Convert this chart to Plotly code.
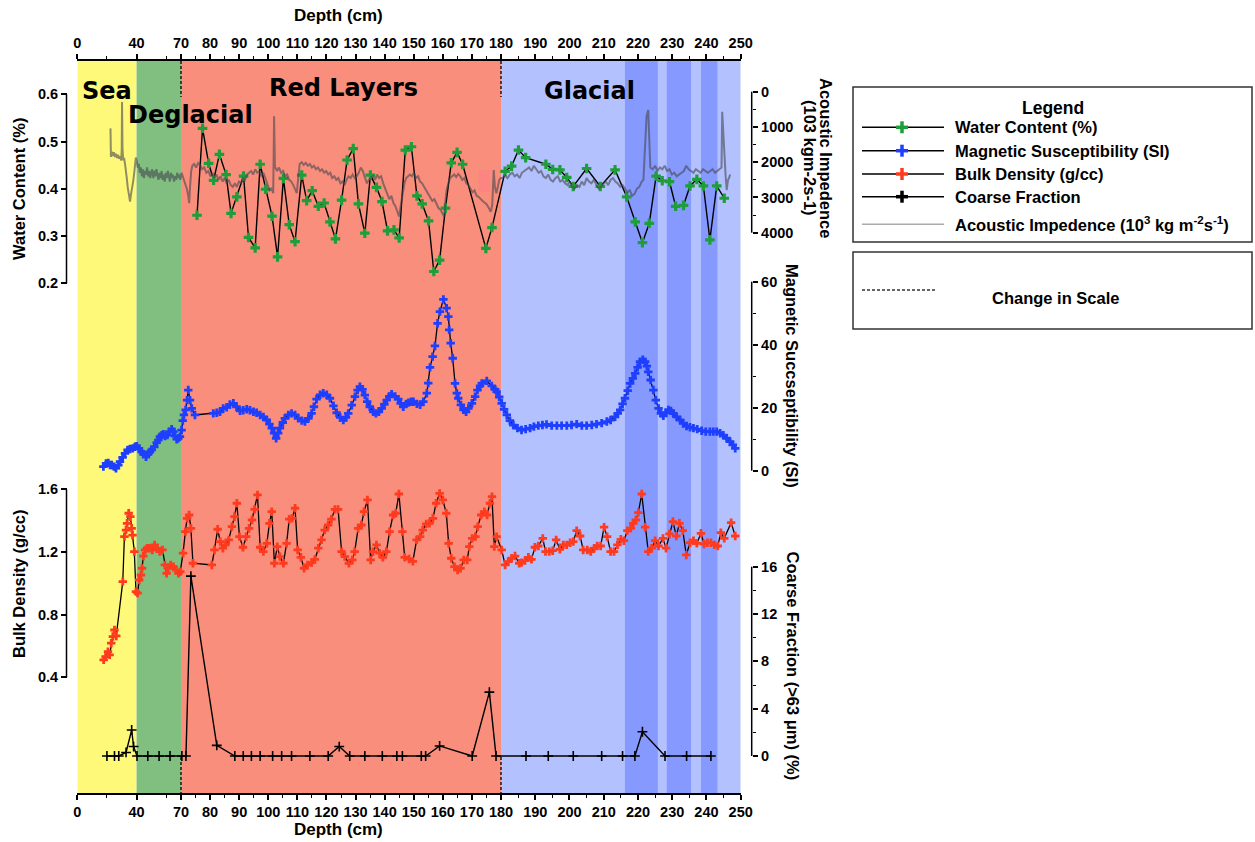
import numpy as np
import plotly.graph_objects as go

W, H = 1255, 842

# ---------------- data (depth in cm) ----------------
wc_depth = [
    75.5, 77.4, 79.5, 81.2, 83.2, 85.5, 87.2, 89.2, 91.5, 93.2,
    95.5, 97.2, 99.1, 101.3, 103.2, 105.2, 107.2, 109.2, 111.5, 113.2,
    115.1, 117.2, 119.2, 121.2, 123.1, 125.2, 127.1, 129.2, 131.0, 133.2,
    135.1, 137.2, 139.1, 141.0, 143.2, 145.0, 147.1, 149.2, 151.1, 152.9,
    155.1, 156.9, 158.9, 160.9, 162.9, 164.9, 166.8, 174.8, 176.9, 181.2,
    183.1, 185.1, 187.2, 193.1, 195.1, 197.2, 199.2, 201.1, 205.0, 209.0,
    213.3, 216.7, 219.2, 221.3, 223.3, 225.3, 227.1, 229.2, 231.0, 233.3,
    235.2, 237.2, 239.1, 241.0, 243.0, 245.2]
wc_value = [
    0.344, 0.528, 0.454, 0.418, 0.473, 0.430, 0.348, 0.383, 0.427, 0.297,
    0.275, 0.452, 0.399, 0.342, 0.256, 0.422, 0.324, 0.288, 0.429, 0.375,
    0.396, 0.363, 0.370, 0.330, 0.294, 0.376, 0.461, 0.485, 0.368, 0.306,
    0.429, 0.403, 0.373, 0.311, 0.313, 0.296, 0.482, 0.489, 0.385, 0.368,
    0.332, 0.225, 0.249, 0.359, 0.455, 0.477, 0.452, 0.274, 0.318, 0.437,
    0.448, 0.482, 0.466, 0.452, 0.441, 0.440, 0.424, 0.405, 0.443, 0.405,
    0.440, 0.383, 0.330, 0.286, 0.327, 0.427, 0.417, 0.415, 0.363, 0.365,
    0.406, 0.420, 0.406, 0.292, 0.406, 0.380]

ai_depth = [
    22.4, 22.7, 23.3, 24.0, 24.7, 25.4, 26.1, 26.8, 27.5, 28.2,
    28.9, 29.6, 30.0, 30.2, 30.5, 31.0, 31.6, 32.2, 32.8, 33.4,
    34.0, 34.6, 35.2, 35.6, 36.1, 36.6, 37.1, 37.7, 38.3, 38.9,
    39.5, 40.1, 40.8, 41.5, 42.2, 42.9, 43.6, 44.3, 45.0, 45.7,
    46.4, 47.1, 47.8, 48.5, 49.2, 49.9, 50.6, 51.3, 52.0, 52.7,
    53.4, 54.1, 54.8, 55.5, 56.2, 56.9, 57.6, 58.3, 59.0, 59.7,
    60.4, 61.1, 61.8, 62.5, 63.2, 63.9, 64.6, 65.3, 66.0, 66.7,
    67.4, 68.1, 68.8, 69.5, 70.2, 70.8, 71.4, 72.0, 72.5, 72.8,
    73.1, 73.5, 73.9, 74.5, 75.2, 75.9, 76.6, 77.3, 78.0, 78.7,
    79.4, 80.1, 80.8, 81.5, 82.2, 82.9, 83.6, 84.3, 85.0, 85.7,
    86.4, 87.1, 87.8, 88.5, 89.2, 89.9, 90.6, 91.3, 92.0, 92.7,
    93.4, 94.1, 94.8, 95.5, 96.2, 96.9, 97.6, 98.3, 99.0, 99.7,
    100.4, 101.1, 101.7, 102.0, 102.3, 103.0, 103.7, 104.4, 105.1, 105.8,
    106.5, 107.2, 107.9, 108.6, 109.3, 109.8, 110.3, 110.8, 111.5, 112.2,
    112.9, 113.6, 114.3, 115.0, 115.7, 116.4, 117.1, 117.8, 118.5, 119.2,
    119.9, 120.6, 121.3, 122.0, 122.7, 123.4, 124.1, 124.8, 125.5, 126.2,
    126.9, 127.6, 128.3, 129.0, 129.7, 130.4, 131.1, 131.8, 132.5, 133.2,
    133.9, 134.6, 135.3, 136.0, 136.7, 137.4, 138.1, 138.8, 139.5, 140.2,
    140.9, 141.6, 142.3, 143.0, 143.7, 144.4, 145.0, 145.6, 146.2, 146.8,
    147.4, 148.0, 148.7, 149.4, 150.1, 150.8, 151.5, 152.2, 152.9, 153.6,
    154.3, 155.0, 155.7, 156.4, 157.1, 157.8, 158.5, 159.2, 159.9, 160.5,
    160.9, 161.3, 161.9, 162.5, 163.2, 163.9, 164.6, 165.3, 166.0, 166.7,
    167.4, 168.1, 168.8, 169.5, 170.2, 170.9, 171.6, 172.3, 173.0, 173.7,
    174.4, 175.1, 175.8, 176.5, 177.0, 177.5, 177.9, 178.4, 178.9, 179.4,
    179.9, 180.5, 181.2, 181.9, 182.6, 183.3, 184.0, 184.7, 185.4, 186.1,
    186.8, 187.5, 188.2, 188.9, 189.6, 190.3, 191.0, 191.7, 192.4, 193.1,
    193.8, 194.5, 195.2, 195.9, 196.6, 197.3, 198.0, 198.7, 199.4, 200.1,
    200.8, 201.5, 202.2, 202.9, 203.6, 204.3, 205.0, 205.7, 206.4, 207.1,
    207.8, 208.5, 209.2, 209.9, 210.6, 211.3, 212.0, 212.7, 213.4, 214.1,
    214.8, 215.5, 216.2, 216.9, 217.6, 218.3, 219.0, 219.7, 220.4, 221.1,
    221.6, 222.0, 222.5, 223.0, 223.3, 223.6, 224.3, 225.0, 225.7, 226.4,
    227.1, 227.8, 228.5, 229.2, 229.9, 230.6, 231.3, 232.0, 232.7, 233.4,
    234.1, 234.8, 235.5, 236.2, 236.9, 237.6, 238.3, 239.0, 239.7, 240.4,
    241.1, 241.8, 242.5, 243.2, 243.9, 244.4, 244.6, 244.9, 245.2, 245.6,
    245.9, 246.3, 246.6, 246.9]
ai_value = [
    1040, 1850, 1700, 1820, 1720, 1850, 1760, 1880, 1790, 1900,
    1830, 1950, 1650, 290, 1600, 1950, 1880, 2050, 2200, 2450,
    2700, 2850, 2950, 3120, 2950, 2850, 2700, 2550, 2350, 2100,
    1870, 1950, 2150, 2050, 2300, 2150, 2400, 2200, 2450, 2250,
    2350, 2150, 2400, 2250, 2450, 2300, 2200, 2450, 2250, 2400,
    2200, 2350, 2500, 2300, 2450, 2250, 2500, 2350, 2550, 2300,
    2450, 2250, 2400, 2550, 2300, 2450, 2350, 2550, 2400, 2500,
    2300, 2450, 2350, 2500, 2300, 2450, 2600, 2750, 2950, 3160,
    2700, 2250, 2100, 2050, 2150, 2020, 2080, 2200, 2150, 2300,
    2250, 2400, 2300, 2450, 2350, 2500, 2400, 2550, 2450, 2600,
    2500, 2650, 2700, 2600, 2700, 2550, 2600, 2450, 2500, 2350,
    2300, 2250, 2350, 2200, 2300, 2250, 2400, 2300, 2450, 2650,
    2800, 2750, 2880, 700, 2130, 2250, 2150, 2300, 2250, 2400,
    2350, 2500, 2550, 2650, 2800, 2880, 2450, 2050, 2000, 2080,
    2020, 2100, 2050, 2150, 2100, 2200, 2150, 2250, 2200, 2300,
    2250, 2350, 2300, 2450, 2400, 2500, 2450, 2600, 2550, 2650,
    2500, 2400, 2450, 2350, 2450, 2400, 2300, 2150, 2250, 2450,
    2600, 2500, 2450, 2400, 2500, 2350, 2450, 2400, 2600, 2750,
    2900, 3050, 2950, 3150, 3250, 3400, 3545, 3200, 2880, 2600,
    2450, 2400, 2350, 2400, 2300, 2450, 2400, 2550, 2600, 2700,
    2800, 2900, 3000, 3100, 3050, 3200, 3300, 3350, 3450, 3545,
    3100, 2790, 2600, 2450, 2400, 2350, 2420, 2330, 2400, 2500,
    2450, 2600, 2650, 2750, 2850, 2800, 2950, 2980, 3050, 3100,
    3150, 3200, 3300, 3405, 3200, 2220, 2700, 2880, 2700, 2500,
    2450, 2450, 2380, 2450, 2350, 2300, 2400, 2350, 2450, 2300,
    2250, 2200, 2150, 2250, 2100, 2200, 2300, 2250, 2400, 2450,
    2350, 2500, 2550, 2450, 2400, 2550, 2500, 2600, 2650, 2550,
    2700, 2750, 2650, 2700, 2550, 2650, 2450, 2550, 2600, 2500,
    2650, 2750, 2700, 2600, 2550, 2650, 2500, 2450, 2550, 2600,
    2700, 2650, 2750, 2850, 2800, 2950, 2900, 2750, 2700, 2550,
    2500, 1800, 700, 520, 1500, 2150, 2200, 2100, 2250, 2150,
    2200, 2100, 2250, 2200, 2350, 2300, 2400, 2350, 2300, 2250,
    2100, 2200, 2250, 2300, 2200, 2250, 2300, 2200, 2250, 2300,
    2250, 2200, 2300, 2250, 2200, 2150, 570, 1200, 1750, 2400,
    2790, 2500, 2450, 2350]

ms_depth = [
    17.6, 19.4, 20.9, 22.1, 23.2, 24.8, 26.1, 27.7, 28.8, 30.6,
    32.2, 34.0, 35.6, 37.4, 38.9, 40.1, 41.6, 43.5, 44.6, 46.4,
    47.9, 49.1, 50.2, 52.0, 53.6, 54.7, 55.8, 57.0, 58.1, 59.2,
    60.8, 62.1, 63.7, 64.8, 66.0, 67.1, 68.2, 69.3, 70.2, 70.6,
    71.0, 71.6, 72.1, 72.5, 73.1, 73.7, 74.8, 81.1, 82.3, 83.4,
    84.5, 85.7, 86.8, 88.0, 89.1, 90.3, 91.4, 92.6, 93.7, 94.9,
    96.0, 97.2, 98.3, 99.5, 100.4, 101.2, 102.0, 102.7, 103.4, 104.0,
    105.0, 105.7, 106.9, 108.0, 109.2, 110.3, 111.5, 112.6, 113.8, 114.9,
    115.7, 116.6, 117.8, 118.9, 120.1, 121.2, 122.4, 123.5, 124.7, 125.8,
    126.7, 127.5, 128.7, 129.8, 130.7, 131.5, 132.4, 133.2, 134.0, 134.9,
    136.1, 137.0, 138.0, 139.0, 139.9, 140.7, 141.6, 142.4, 143.6, 144.7,
    145.5, 146.4, 147.4, 148.2, 149.1, 149.9, 151.1, 152.2, 153.3, 154.5,
    155.0, 155.6, 156.5, 157.3, 158.2, 159.0, 160.2, 161.3, 161.9, 162.2,
    162.7, 163.4, 164.2, 164.8, 165.3, 166.2, 167.1, 168.0, 168.8, 170.0,
    171.1, 171.9, 172.8, 173.4, 175.1, 176.8, 178.0, 178.5, 179.4, 180.2,
    180.9, 181.7, 182.6, 183.6, 184.8, 186.0, 187.2, 188.5, 189.6, 190.9,
    192.1, 193.3, 194.8, 196.3, 197.7, 199.2, 200.6, 202.1, 203.6, 205.0,
    206.5, 207.9, 209.4, 210.9, 212.0, 213.3, 214.1, 214.8, 215.5, 216.2,
    217.0, 217.7, 218.5, 219.2, 219.9, 220.6, 221.4, 222.1, 222.6, 223.0,
    223.7, 224.5, 225.2, 226.0, 226.7, 227.4, 228.2, 228.9, 229.6, 230.3,
    231.3, 232.3, 233.2, 234.2, 235.2, 236.2, 237.3, 238.6, 239.8, 241.0,
    242.0, 243.0, 244.0, 244.9, 245.9, 246.9, 247.7, 248.4]
ms_value = [
    1.3, 2.3, 2.5, 1.8, 1.8, 1.3, 0.8, 1.8, 2.9, 4.2,
    5.5, 6.6, 6.9, 7.1, 7.6, 7.8, 7.1, 6.0, 5.3, 4.4,
    5.3, 6.0, 6.6, 7.6, 8.9, 9.7, 10.8, 11.3, 11.6, 11.0,
    11.3, 12.4, 13.2, 12.4, 11.0, 10.0, 10.3, 10.8, 12.9, 15.9,
    17.7, 19.3, 22.4, 25.6, 22.4, 19.8, 17.7, 18.2, 18.4, 18.7,
    19.8, 20.1, 21.0, 21.4, 20.3, 19.0, 19.2, 19.5, 19.2, 18.7,
    18.4, 17.7, 17.1, 16.1, 14.8, 13.5, 11.9, 10.3, 11.9, 13.5,
    15.3, 16.6, 17.7, 18.2, 17.7, 16.6, 15.9, 15.6, 16.6, 18.2,
    20.3, 22.7, 24.1, 24.6, 24.1, 23.0, 20.6, 18.4, 16.9, 16.1,
    16.9, 18.2, 20.8, 23.5, 25.6, 26.7, 25.8, 24.0, 21.9, 20.3,
    18.7, 18.2, 18.7, 19.8, 21.1, 22.4, 23.6, 24.3, 23.6, 22.7,
    21.4, 20.3, 21.2, 21.6, 21.9, 21.9, 21.2, 20.9, 21.9, 24.6,
    27.8, 32.8, 36.2, 39.6, 46.8, 50.5, 54.4, 51.6, 48.9, 44.7,
    40.5, 35.7, 27.7, 24.6, 23.0, 20.9, 19.3, 18.7, 19.8, 21.4,
    23.5, 25.6, 26.9, 27.7, 28.5, 26.9, 25.8, 25.1, 23.4, 21.4,
    19.5, 17.7, 15.9, 14.5, 13.5, 12.9, 13.2, 13.5, 14.0, 14.3,
    14.5, 14.7, 14.3, 14.3, 14.3, 14.3, 14.5, 14.8, 14.3, 14.3,
    14.5, 14.8, 15.1, 15.6, 16.1, 17.1, 18.2, 19.3, 21.2, 23.0,
    25.4, 27.7, 29.3, 30.9, 32.8, 34.6, 35.2, 34.6, 33.2, 31.4,
    28.8, 25.6, 22.4, 19.8, 18.2, 17.4, 18.4, 19.3, 19.0, 18.2,
    17.1, 16.1, 15.0, 14.2, 13.8, 13.5, 13.2, 12.7, 12.4, 12.4,
    12.4, 12.4, 11.9, 11.3, 10.3, 9.2, 8.2, 7.1]

bd_depth = [
    17.8, 19.1, 20.7, 21.8, 22.9, 24.0, 25.1, 26.3, 30.7, 31.8,
    32.9, 33.6, 34.7, 35.8, 36.7, 37.3, 38.5, 39.6, 40.7, 41.8,
    43.0, 43.7, 44.6, 45.8, 47.1, 48.7, 50.6, 52.2, 53.8, 55.7,
    57.5, 59.1, 60.3, 61.4, 63.0, 64.9, 66.7, 68.3, 69.5, 70.7,
    71.5, 72.1, 72.8, 73.4, 74.1, 80.6, 81.5, 82.6, 83.5, 84.4,
    85.3, 86.4, 87.5, 88.4, 89.2, 90.1, 91.3, 92.4, 93.4, 94.4,
    95.3, 96.3, 97.2, 98.3, 99.5, 100.4, 101.2, 102.1, 103.1, 104.0,
    105.2, 106.3, 107.2, 108.2, 109.2, 110.1, 111.2, 112.3, 113.5, 114.9,
    116.0, 117.2, 118.3, 119.4, 120.6, 121.7, 122.9, 124.0, 125.2, 126.3,
    127.7, 128.9, 129.7, 130.9, 132.0, 132.9, 134.1, 135.2, 136.0, 137.2,
    138.3, 139.4, 140.6, 141.7, 142.9, 143.8, 144.9, 146.1, 146.9, 148.4,
    149.7, 151.0, 152.2, 153.1, 154.3, 155.4, 156.6, 157.7, 158.9, 160.0,
    161.2, 162.0, 162.9, 164.0, 165.1, 166.1, 167.2, 168.4, 169.1, 170.1,
    171.2, 172.0, 173.2, 174.3, 175.2, 176.2, 176.9, 177.7, 178.5, 180.2,
    181.2, 182.1, 183.1, 184.1, 185.3, 186.0, 187.0, 188.0, 188.9, 189.9,
    190.9, 192.2, 193.0, 194.1, 195.1, 196.1, 197.2, 198.2, 199.2, 200.2,
    201.1, 202.1, 203.1, 204.0, 205.2, 206.2, 207.2, 208.1, 209.1, 210.1,
    211.0, 212.0, 213.0, 214.0, 215.0, 215.9, 216.9, 217.9, 218.6, 219.4,
    220.1, 221.1, 222.1, 223.0, 224.0, 225.0, 226.0, 227.3, 228.2, 229.2,
    230.2, 231.2, 232.1, 233.1, 234.1, 235.2, 236.2, 237.2, 238.4, 239.3,
    240.3, 241.3, 242.3, 243.3, 244.2, 245.2, 247.2, 248.4]
bd_value = [
    0.511, 0.532, 0.564, 0.543, 0.618, 0.660, 0.702, 0.664, 1.011, 1.298,
    1.340, 1.383, 1.447, 1.425, 1.351, 1.308, 1.202, 0.947, 0.937, 1.021,
    1.053, 1.096, 1.174, 1.213, 1.224, 1.224, 1.213, 1.245, 1.224, 1.202,
    1.213, 1.117, 1.064, 1.096, 1.117, 1.106, 1.085, 1.064, 1.074, 1.192,
    1.330, 1.415, 1.436, 1.351, 1.128, 1.117, 1.213, 1.345, 1.266, 1.224,
    1.245, 1.277, 1.362, 1.425, 1.511, 1.298, 1.230, 1.298, 1.351, 1.404,
    1.472, 1.564, 1.230, 1.202, 1.255, 1.383, 1.457, 1.128, 1.234, 1.170,
    1.128, 1.255, 1.409, 1.415, 1.479, 1.213, 1.166, 1.096, 1.117, 1.132,
    1.153, 1.224, 1.277, 1.340, 1.372, 1.409, 1.472, 1.472, 1.202, 1.170,
    1.128, 1.149, 1.202, 1.351, 1.372, 1.457, 1.532, 1.149, 1.202, 1.245,
    1.192, 1.166, 1.202, 1.330, 1.436, 1.447, 1.570, 1.330, 1.166, 1.155,
    1.140, 1.277, 1.298, 1.340, 1.379, 1.383, 1.415, 1.511, 1.574, 1.532,
    1.447, 1.255, 1.160, 1.106, 1.085, 1.096, 1.149, 1.149, 1.234, 1.287,
    1.298, 1.362, 1.436, 1.457, 1.436, 1.511, 1.553, 1.234, 1.298, 1.213,
    1.117, 1.138, 1.160, 1.174, 1.128, 1.132, 1.145, 1.166, 1.153, 1.230,
    1.238, 1.287, 1.202, 1.202, 1.208, 1.277, 1.217, 1.245, 1.245, 1.259,
    1.266, 1.336, 1.302, 1.213, 1.213, 1.202, 1.224, 1.238, 1.238, 1.358,
    1.298, 1.202, 1.202, 1.245, 1.281, 1.272, 1.336, 1.351, 1.383, 1.404,
    1.451, 1.570, 1.358, 1.202, 1.224, 1.272, 1.238, 1.287, 1.224, 1.315,
    1.394, 1.302, 1.383, 1.336, 1.181, 1.259, 1.272, 1.255, 1.319, 1.251,
    1.259, 1.259, 1.245, 1.238, 1.323, 1.287, 1.387, 1.302]

cf_depth = [
    20.0, 25.1, 28.0, 32.9, 36.7, 38.0, 40.3, 47.6, 55.2, 62.6,
    70.3, 71.7, 73.4, 82.3, 88.5, 91.4, 94.2, 97.2, 101.5, 104.6,
    108.0, 114.3, 120.6, 124.4, 128.0, 133.2, 139.2, 144.2, 146.1, 152.6,
    154.1, 158.9, 170.1, 176.0, 178.3, 187.3, 193.8, 201.1, 209.4, 215.5,
    219.1, 221.3, 227.9, 234.2, 241.3]
cf_value = [
    0, 0, 0, 0.3, 2.2, 0.8, 0, 0, 0, 0,
    0, 0, 15.2, 0.9, 0, 0, 0, 0, 0, 0,
    0, 0, 0, 0.8, 0, 0, 0, 0, 0, 0,
    0, 0.85, 0, 5.4, 0, 0, 0, 0, 0, 0,
    0, 2.05, 0, 0, 0]

for a, b in [(wc_depth, wc_value), (ai_depth, ai_value), (ms_depth, ms_value),
             (bd_depth, bd_value), (cf_depth, cf_value)]:
    assert len(a) == len(b)

zone_names = ["Sea", "Deglacial", "Red Layers", "Glacial"]
zone_start = [0, 40, 70, 180]
zone_end = [40, 70, 180, 250]
zone_colors = ["#FFF97A", "#80BF80", "#FA8E7C", "#B4C1FF"]
dense_start = [216.2, 228.4, 238.4]
dense_end = [225.8, 235.5, 243.2]
dense_color = "#8599FF"

depth_major = [0, 40, 70, 80, 90, 100, 110, 120, 130, 140, 150, 160, 170,
               180, 190, 200, 210, 220, 230, 240, 250]
depth_minor = [20, 60] + list(range(75, 250, 10))

# ---------------- broken depth scale ----------------
# three segments (0-70, 70-180, 180-250) drawn with different stretch
SEG_DEPTH = [0, 70, 180, 250]
SEG_LEN = [0.0, 103.7, 423.7, 663.4]


def dpos(d):
    return np.interp(np.asarray(d, dtype=float), SEG_DEPTH, SEG_LEN)


def PX(x):
    return x / W


def PY(y):
    return 1 - y / H


X_LEFT, X_RIGHT = 77.3, 740.7
Y_TOP, Y_BOT = 61.0, 793.0
Y_DOM = [PY(Y_BOT), PY(Y_TOP)]


def yrange(v1, p1, v2, p2):
    k = (v2 - v1) / (p2 - p1)
    return [v1 + (Y_BOT - p1) * k, v1 + (Y_TOP - p1) * k]


TICKFONT = dict(family="Liberation Sans", size=14.5, color="black", weight="bold")
TITLEFONT = dict(family="Liberation Sans", size=16.5, color="black", weight="bold")
ZONEFONT = dict(family="DejaVu Sans", size=24, color="black", weight="bold")

GREEN, BLUE, RED = "#1E9E3A", "#1F3FFF", "#FF3B1F"

fig = go.Figure()

fig.add_trace(go.Scatter(
    x=dpos(ai_depth), y=ai_value, yaxis="y2", mode="lines",
    line=dict(color="rgba(70,70,80,0.6)", width=2), showlegend=False,
    hoverinfo="skip"))
fig.add_trace(go.Scatter(
    x=dpos(wc_depth), y=wc_value, yaxis="y", mode="lines+markers",
    line=dict(color="black", width=1.4),
    marker=dict(symbol="cross", size=8, color=GREEN, line=dict(width=0)),
    showlegend=False))
fig.add_trace(go.Scatter(
    x=dpos(ms_depth), y=ms_value, yaxis="y3", mode="lines+markers",
    line=dict(color="black", width=1.3),
    marker=dict(symbol="cross", size=7, color=BLUE, line=dict(width=0)),
    showlegend=False))
fig.add_trace(go.Scatter(
    x=dpos(bd_depth), y=bd_value, yaxis="y4", mode="lines+markers",
    line=dict(color="black", width=1.3),
    marker=dict(symbol="cross", size=7, color=RED, line=dict(width=0)),
    showlegend=False))
fig.add_trace(go.Scatter(
    x=dpos(cf_depth), y=cf_value, yaxis="y5", mode="lines+markers",
    line=dict(color="black", width=1.4),
    marker=dict(symbol="cross-thin", size=7, color="black",
                line=dict(width=1.6, color="black")),
    showlegend=False, cliponaxis=False))
# carrier for the top depth axis
fig.add_trace(go.Scatter(x=[None], y=[None], xaxis="x2", yaxis="y",
                         showlegend=False, hoverinfo="skip"))

xcommon = dict(
    domain=[PX(X_LEFT), PX(X_RIGHT)], range=[SEG_LEN[0], SEG_LEN[-1]],
    tickmode="array", tickvals=dpos(depth_major).tolist(),
    ticktext=[str(v) for v in depth_major], ticks="outside", ticklen=5,
    tickwidth=1.5, tickcolor="black", showline=True, linewidth=1.5,
    linecolor="black", showgrid=False, zeroline=False, tickfont=TICKFONT,
    minor=dict(tickvals=dpos(depth_minor).tolist(), ticks="outside",
               ticklen=3, tickwidth=1.3, tickcolor="black"),
    anchor="y", fixedrange=True, automargin=False)

L_POS, R_POS = 66.5, 751.7


def ycfg(vals, labels, rng, side, xpos, minor=None, overlay=True):
    c = dict(domain=Y_DOM, range=rng, anchor="free", position=PX(xpos),
             side=side, tickmode="array", tickvals=vals, ticktext=labels,
             ticks="outside", ticklen=5.5, tickwidth=1.5, tickcolor="black",
             showline=False, showgrid=False, zeroline=False,
             tickfont=TICKFONT, fixedrange=True, automargin=False)
    if minor:
        c["minor"] = dict(tickvals=minor, ticks="outside", ticklen=3,
                          tickwidth=1.3, tickcolor="black")
    if overlay:
        c["overlaying"] = "y"
    return c


wc_ticks = [0.2, 0.3, 0.4, 0.5, 0.6]
ai_ticks = [0, 1000, 2000, 3000, 4000]
ms_ticks = [0, 20, 40, 60]
bd_ticks = [0.4, 0.8, 1.2, 1.6]
cf_ticks = [0, 4, 8, 12, 16]

# pixel calibration of each value axis: (value, pixel) pairs of the end ticks
wc_cal = (0.2, 283.3, 0.6, 94.3)
ai_cal = (0, 91.7, 4000, 232.7)
ms_cal = (0, 470.7, 60, 281.7)
bd_cal = (0.4, 677.3, 1.6, 489.3)
cf_cal = (0, 756.0, 16, 566.7)

fig.update_layout(
    width=W, height=H, margin=dict(l=0, r=0, t=0, b=0, pad=0),
    autosize=False,
    paper_bgcolor="white", plot_bgcolor="white",
    xaxis=xcommon,
    xaxis2=dict(xcommon, side="top", overlaying="x"),
    yaxis=ycfg(wc_ticks, ["0.2", "0.3", "0.4", "0.5", "0.6"],
               yrange(*wc_cal), "left", L_POS, overlay=False),
    yaxis2=ycfg(ai_ticks, [str(v) for v in ai_ticks], yrange(*ai_cal),
                "right", R_POS, minor=[500, 1500, 2500, 3500]),
    yaxis3=ycfg(ms_ticks, [str(v) for v in ms_ticks], yrange(*ms_cal),
                "right", R_POS, minor=[10, 30, 50]),
    yaxis4=ycfg(bd_ticks, ["0.4", "0.8", "1.2", "1.6"], yrange(*bd_cal),
                "left", L_POS),
    yaxis5=ycfg(cf_ticks, [str(v) for v in cf_ticks], yrange(*cf_cal),
                "right", R_POS, minor=[2, 6, 10, 14]),
)

shapes = []
# depth zones
for s, e, c in zip(zone_start, zone_end, zone_colors):
    shapes.append(dict(type="rect", xref="x", yref="paper", x0=dpos(s),
                       x1=dpos(e), y0=PY(Y_BOT), y1=PY(Y_TOP), fillcolor=c,
                       line=dict(width=0), layer="below"))
for s, e in zip(dense_start, dense_end):
    shapes.append(dict(type="rect", xref="x", yref="paper", x0=dpos(s),
                       x1=dpos(e), y0=PY(Y_BOT), y1=PY(Y_TOP),
                       fillcolor=dense_color, line=dict(width=0),
                       layer="below"))
# pinker patch inside the red layers
shapes.append(dict(type="rect", xref="x", yref="paper", x0=dpos(172.4),
                   x1=dpos(176.2), y0=PY(192), y1=PY(170),
                   fillcolor="rgba(255,120,140,0.45)", line=dict(width=0),
                   layer="below"))
# scale-change markers at 70 and 180 cm
for d in (70, 180):
    for y0, y1 in ((Y_TOP, 97), (757, Y_BOT)):
        shapes.append(dict(type="line", xref="x", yref="paper", x0=dpos(d),
                           x1=dpos(d), y0=PY(y0), y1=PY(y1),
                           line=dict(color="black", width=1.3,
                                     dash="3px,2px")))
# value-axis spines spanning the labelled tick range
for xpos, (v1, p1, v2, p2) in [(L_POS, wc_cal), (L_POS, bd_cal),
                               (R_POS, ai_cal), (R_POS, ms_cal),
                               (R_POS, cf_cal)]:
    shapes.append(dict(type="line", xref="paper", yref="paper", x0=PX(xpos),
                       x1=PX(xpos), y0=PY(p1), y1=PY(p2),
                       line=dict(color="black", width=1.5)))

# legend boxes
for y0, y1 in ((87, 242), (252, 329)):
    shapes.append(dict(type="rect", xref="paper", yref="paper", x0=PX(853),
                       x1=PX(1252), y0=PY(y1), y1=PY(y0),
                       line=dict(color="#333333", width=1.5),
                       fillcolor="white"))

legend_rows = [127.3, 150.7, 174.0, 196.7, 224.3]
legend_labels = ["Water Content (%)", "Magnetic Susceptibility (SI)",
                 "Bulk Density (g/cc)", "Coarse Fraction",
                 "Acoustic Impedence (10<sup>3</sup> kg m<sup>-2</sup>s<sup>-1</sup>)"]
legend_marks = [GREEN, BLUE, RED, "black", None]
for yy, mc in zip(legend_rows, legend_marks):
    shapes.append(dict(type="line", xref="paper", yref="paper", x0=PX(862),
                       x1=PX(944), y0=PY(yy), y1=PY(yy),
                       line=dict(color="black" if mc else "#AAAAAA",
                                 width=1.5)))
    if mc:
        shapes.append(dict(type="line", xref="paper", yref="paper",
                           x0=PX(896), x1=PX(908), y0=PY(yy), y1=PY(yy),
                           line=dict(color=mc, width=3.5)))
        shapes.append(dict(type="line", xref="paper", yref="paper",
                           x0=PX(902), x1=PX(902), y0=PY(yy - 6),
                           y1=PY(yy + 6), line=dict(color=mc, width=3.5)))
shapes.append(dict(type="line", xref="paper", yref="paper", x0=PX(862),
                   x1=PX(935), y0=PY(290), y1=PY(290),
                   line=dict(color="#333333", width=1.3, dash="3px,2px")))

ann = []
zone_label_xy = [(107.5, 91), (190.5, 115), (343, 88), (589.5, 91)]
for name, (ax, ay) in zip(zone_names, zone_label_xy):
    ann.append(dict(text=name, x=PX(ax), y=PY(ay), xref="paper",
                    yref="paper", showarrow=False, font=ZONEFONT,
                    xanchor="center", yanchor="middle"))

for txt, ax, ay, ang in [
        ("Depth (cm)", 338, 16, 0), ("Depth (cm)", 338, 829, 0),
        ("Water Content (%)", 19, 189, -90),
        ("Bulk Density (g/cc)", 19, 584, -90),
        ("Acoustic Impedence", 826, 158, 90),
        ("(103 kgm-2s-1)", 810, 158, 90),
        ("Magnetic Succseptibility (SI)", 792, 376, 90),
        ("Coarse Fraction (>63 μm) (%)", 792.5, 666, 90)]:
    f = dict(TITLEFONT)
    if txt == "Depth (cm)":
        f["size"] = 17
    ann.append(dict(text=txt, x=PX(ax), y=PY(ay), xref="paper", yref="paper",
                    showarrow=False, font=f, textangle=ang,
                    xanchor="center", yanchor="middle"))

ann.append(dict(text="Legend", x=PX(1053), y=PY(108), xref="paper",
                yref="paper", showarrow=False, font=dict(TITLEFONT, size=17.5),
                xanchor="center", yanchor="middle"))
for yy, lab in zip(legend_rows, legend_labels):
    ann.append(dict(text=lab, x=PX(953), y=PY(yy), xref="paper",
                    yref="paper", showarrow=False, font=TITLEFONT,
                    xanchor="left", yanchor="middle"))
ann.append(dict(text="Change in Scale", x=PX(1055), y=PY(298), xref="paper",
                yref="paper", showarrow=False, font=TITLEFONT,
                xanchor="center", yanchor="middle"))

fig.update_layout(shapes=shapes, annotations=ann)
fig.write_html("out.html")
